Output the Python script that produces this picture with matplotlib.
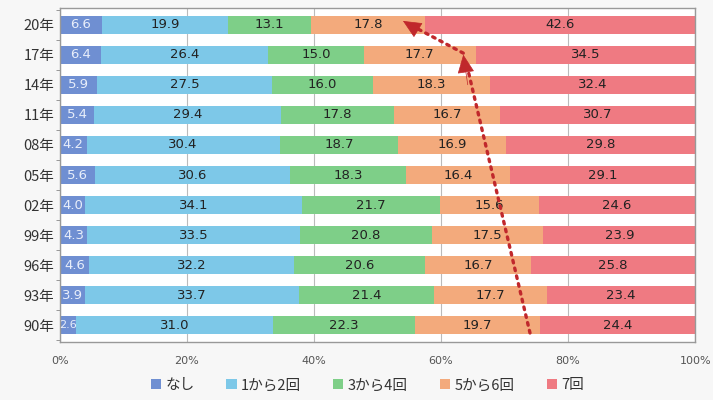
import matplotlib
matplotlib.use("Agg")
import matplotlib.pyplot as plt
import numpy as np

plt.rcParams['font.family'] = ['Noto Sans CJK JP', 'DejaVu Sans']

years = ['90年', '93年', '96年', '99年', '02年', '05年', '08年', '11年', '14年', '17年', '20年']
series_names = ['なし', '1から2回', '3から4回', '5から6回', '7回']
nashi = [2.6, 3.9, 4.6, 4.3, 4.0, 5.6, 4.2, 5.4, 5.9, 6.4, 6.6]
k1_2 = [31.0, 33.7, 32.2, 33.5, 34.1, 30.6, 30.4, 29.4, 27.5, 26.4, 19.9]
k3_4 = [22.3, 21.4, 20.6, 20.8, 21.7, 18.3, 18.7, 17.8, 16.0, 15.0, 13.1]
k5_6 = [19.7, 17.7, 16.7, 17.5, 15.6, 16.4, 16.9, 16.7, 18.3, 17.7, 17.8]
k7 = [24.4, 23.4, 25.8, 23.9, 24.6, 29.1, 29.8, 30.7, 32.4, 34.5, 42.6]

colors = ['#6f8fd2', '#7dc8e8', '#7ecf88', '#f3aa7c', '#ef7a82']
text_colors = ['#e8eefa', '#222222', '#222222', '#222222', '#222222']

data = np.array([nashi, k1_2, k3_4, k5_6, k7])
# normalise each row to 100%
totals = data.sum(axis=0)
pct = data / totals * 100

fig = plt.figure(figsize=(7.13, 4.0), dpi=100)
fig.patch.set_facecolor('#f7f7f7')
ax = fig.add_axes([0.084, 0.145, 0.891, 0.835])
ax.set_facecolor('white')

y = np.arange(len(years))
left = np.zeros(len(years))
for i in range(len(series_names)):
    ax.barh(y, pct[i], left=left, height=0.6, color=colors[i], label=series_names[i], zorder=2)
    for j in range(len(years)):
        fs = 8 if data[i][j] < 3 else 9.5
        ax.text(left[j] + pct[i][j] / 2, y[j], f'{data[i][j]:.1f}', ha='center', va='center',
                fontsize=fs, color=text_colors[i], family='DejaVu Sans', zorder=3)
    left += pct[i]

ax.set_xlim(0, 100)
ax.set_ylim(-0.55, len(years) - 0.45)
ax.set_xticks([0, 20, 40, 60, 80, 100])
ax.set_xticklabels(['0%', '20%', '40%', '60%', '80%', '100%'], fontsize=8, color='#555555',
                   family='DejaVu Sans')
ax.set_yticks(y)
ax.set_yticklabels(years, fontsize=10.5, color='#333333')
ax.set_yticks(np.arange(-0.5, len(years), 1), minor=True)
ax.tick_params(axis='y', which='major', length=0, pad=4)
ax.tick_params(axis='y', which='minor', length=3, color='#888888')
ax.tick_params(axis='x', length=0, pad=10)
ax.grid(axis='x', color='#bbbbbb', linewidth=0.8, zorder=0)
for s in ax.spines.values():
    s.set_color('#999999')
    s.set_linewidth(1.0)

# dotted arrows
red = '#c0282c'
ax.plot([74.0, 64.0], [-0.25, 8.7], color=red, linestyle=(0, (0.8, 1.6)), linewidth=2.4,
        dash_capstyle='round', zorder=4)
ax.plot([63.5, 55.5], [9.05, 9.95], color=red, linestyle=(0, (0.8, 1.6)), linewidth=2.4,
        dash_capstyle='round', zorder=4)
ax.annotate('', xy=(63.5, 9.0), xytext=(64.2, 8.0),
            arrowprops=dict(arrowstyle='-|>,head_length=1.2,head_width=0.55', color=red,
                            linewidth=0.5, shrinkA=0, shrinkB=0), zorder=4)
ax.annotate('', xy=(54.0, 10.12), xytext=(56.5, 9.8),
            arrowprops=dict(arrowstyle='-|>,head_length=1.2,head_width=0.55', color=red,
                            linewidth=0.5, shrinkA=0, shrinkB=0), zorder=4)

fig.legend(loc='center', bbox_to_anchor=(0.515, 0.037), ncol=5, frameon=False,
           fontsize=10.5, handlelength=0.7, handleheight=0.7, handletextpad=0.3,
           columnspacing=2.2, labelcolor='#333333')

fig.savefig('out.png', dpi=100, facecolor=fig.get_facecolor())
